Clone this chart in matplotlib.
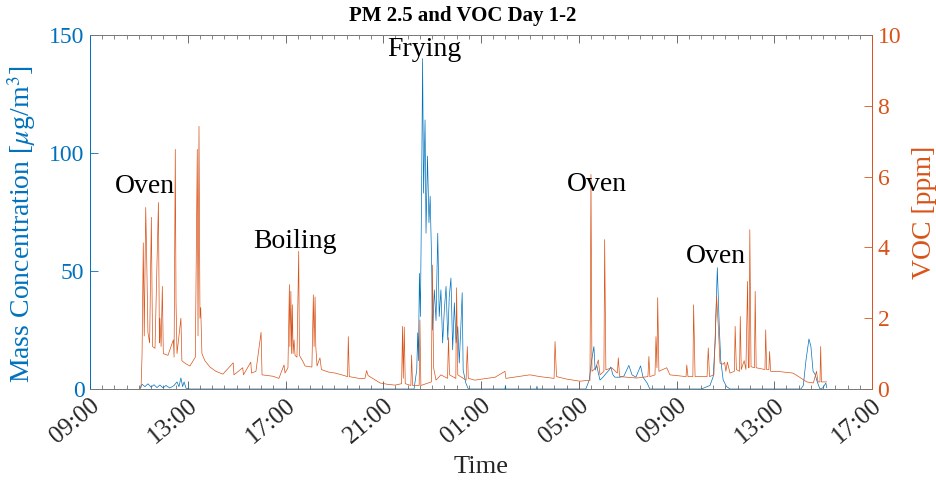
import numpy as np
import pandas as pd
import matplotlib
matplotlib.use("Agg")
import matplotlib.pyplot as plt
import matplotlib.dates as mdates

# Hours after 09:00 on day 1
voc_hours = [2.05, 2.09, 2.13, 2.18, 2.22, 2.28, 2.32, 2.37, 2.44, 2.51, 2.56, 2.66, 2.80, 2.84,
             2.86, 2.91, 2.96, 3.00, 3.19, 3.41, 3.44, 3.49, 3.52, 3.56, 3.72, 3.76, 3.90, 4.09, 4.31,
             4.39, 4.42, 4.46, 4.50, 4.53, 4.58, 4.70, 4.91, 5.15, 5.44, 5.86, 5.89, 6.25, 6.28, 6.58,
             6.61, 6.79, 7.00, 7.04, 7.49, 7.73, 7.94, 7.98, 8.10, 8.16, 8.18, 8.22, 8.25, 8.28, 8.31,
             8.35, 8.39, 8.47, 8.54, 8.57, 8.72, 8.80, 9.08, 9.14, 9.17, 9.21, 9.24, 9.29, 9.41,
             9.47, 9.75, 10.03, 10.30, 10.54, 10.57, 10.61, 11.00, 11.25, 11.32, 11.38, 11.87,
             12.20, 12.48, 12.75, 12.79, 12.82, 12.86, 12.90, 13.13, 13.16, 13.20, 13.47, 13.50,
             13.54, 13.97, 14.01, 14.06, 14.16, 14.36, 14.63, 14.67, 14.71, 14.97, 15.00, 15.05,
             15.39, 15.44, 15.48, 15.75, 16.23, 16.57, 16.98, 17.02, 18.00, 18.41, 18.99, 19.03,
             19.09, 19.50, 20.05, 20.46, 20.50, 20.54, 20.70, 20.80, 20.87, 21.03, 21.06, 21.11,
             21.35, 21.58, 21.62, 21.67, 22.00, 22.37, 22.83, 22.87, 22.91, 23.12, 23.16, 23.20,
             23.23, 23.28, 23.60, 23.73, 24.39, 24.42, 24.47, 24.67, 24.70, 24.76, 25.25, 25.30,
             25.35, 25.53, 25.64, 25.71, 25.78, 25.91, 25.97, 26.02, 26.08, 26.19, 26.37, 26.40,
             26.45, 26.58, 26.61, 26.65, 26.77, 26.84, 26.91, 26.94, 26.97, 27.00, 27.05, 27.19,
             27.22, 27.26, 27.62, 27.65, 27.69, 27.78, 27.81, 27.85, 28.23, 28.76, 28.93, 29.33,
             29.60, 29.73, 29.79, 29.87, 29.90, 29.93, 30.14]
voc_ppm = [0.00, 0.05, 0.96, 4.13, 1.50, 5.13, 3.70, 1.60, 1.30, 4.85, 1.20, 1.15, 5.27, 1.30,
           2.00, 1.20, 2.90, 1.00, 0.95, 1.39, 0.90, 6.77, 2.46, 1.00, 2.00, 0.80, 0.72, 0.65, 0.90,
           6.77, 1.50, 7.42, 2.00, 2.30, 1.00, 0.80, 0.62, 0.50, 0.42, 0.74, 0.40, 0.60, 0.40, 0.76,
           0.45, 0.50, 1.60, 0.40, 0.36, 0.30, 0.68, 0.45, 0.60, 2.95, 1.20, 2.76, 1.00, 2.38, 1.00,
           1.39, 0.95, 0.90, 3.89, 0.95, 0.77, 0.65, 0.62, 2.66, 1.20, 2.60, 1.20, 0.65, 0.88,
           0.55, 0.48, 0.45, 0.40, 0.35, 1.48, 0.35, 0.30, 0.30, 0.52, 0.38, 0.17,
           0.13, 0.11, 0.15, 1.77, 0.30, 1.75, 0.15, 0.10, 0.96, 0.10, 0.10, 1.95,
           0.10, 0.20, 3.50, 0.60, 0.25, 0.40, 0.30, 1.45, 0.40, 0.30, 2.86, 0.40,
           0.25, 1.20, 0.30, 0.25, 0.30, 0.33, 0.50, 0.30, 0.40, 0.35, 0.30, 1.34,
           0.35, 0.28, 0.22, 0.25, 6.06, 0.50, 0.60, 0.82, 0.40, 0.50, 4.22, 0.54,
           0.60, 0.45, 0.88, 0.35, 0.33, 0.31, 0.35, 0.92, 0.35, 0.40, 1.48, 0.60,
           2.58, 0.50, 0.60, 0.40, 0.35, 0.68, 0.35, 0.35, 2.38, 0.35, 0.35, 1.16,
           0.35, 0.40, 2.62, 1.77, 0.73, 0.70, 0.75, 0.50, 0.76, 0.45, 0.50, 1.77,
           0.55, 0.50, 2.05, 0.55, 0.80, 0.55, 3.04, 0.60, 0.60, 4.50, 0.63, 0.60,
           2.76, 0.60, 0.55, 1.67, 0.55, 0.55, 1.06, 0.50, 0.49, 0.45, 0.38, 0.20,
           0.17, 0.50, 0.20, 0.20, 1.20, 0.20, 0.20]

pm_hours = [2.05, 2.13, 2.25, 2.37, 2.50, 2.62, 2.74, 2.86, 2.99, 3.11, 3.27, 3.44, 3.56, 3.64,
            3.72, 3.79, 3.85, 3.93, 4.09, 13.26, 13.37, 13.41, 13.44, 13.48, 13.52, 13.57, 13.61,
            13.65, 13.71, 13.75, 13.81, 13.87, 13.92, 13.98, 14.02, 14.09, 14.16, 14.23, 14.29,
            14.36, 14.43, 14.50, 14.57, 14.64, 14.70, 14.77, 14.84, 14.91, 14.98, 15.05, 15.11,
            15.17, 15.23, 15.27, 15.38, 15.48, 16.98, 17.00, 17.02, 18.27, 18.29, 18.31, 20.29,
            20.43, 20.53, 20.62, 20.67, 20.74, 20.80, 20.87, 20.99, 21.11, 21.24, 21.31, 21.40,
            21.48, 21.69, 21.85, 22.05, 22.18, 22.34, 22.53, 22.63, 22.80, 22.91, 25.02, 25.37,
            25.50, 25.58, 25.67, 25.71, 25.75, 25.81, 25.91, 26.05, 26.19, 29.09, 29.19, 29.30,
            29.42, 29.50, 29.59, 29.66, 29.76, 29.87, 29.99, 30.11, 30.15]
pm_ugm3 = [0.5, 2.0, 1.0, 2.2, 0.8, 1.8, 0.6, 1.7, 0.5, 1.5, 0.4, 1.5, 3.0, 1.0,
           4.7, 1.0, 3.0, 0.3, 0.0, 0.0, 8.0, 23.8, 12.0, 49.0, 30.7, 84.5, 140.0,
           83.0, 114.0, 66.0, 98.7, 70.5, 81.7, 53.5, 25.0, 42.0, 29.0, 66.0, 30.7,
           42.0, 19.5, 33.6, 43.5, 20.8, 39.0, 47.0, 16.6, 36.5, 19.5, 26.5, 11.0,
           25.0, 40.8, 8.0, 2.5, 0.0, 0.0, 1.5, 0.0, 0.0, 1.2, 0.0, 0.0,
           3.8, 12.3, 18.0, 8.0, 10.0, 6.8, 3.8, 5.0, 6.5, 8.0, 9.3, 6.0,
           5.0, 5.0, 5.5, 10.0, 6.0, 5.0, 9.8, 5.0, 2.5, 0.0, 0.0, 1.5,
           5.2, 19.5, 51.4, 39.0, 26.5, 12.3, 3.8, 1.0, 0.0, 0.0, 1.5, 12.3,
           21.2, 18.0, 7.4, 6.5, 3.0, 0.0, 0.5, 2.5, 0.5]

labels = ["Oven", "Boiling", "Frying", "Oven", "Oven"]
label_hours = [2.25, 8.39, 13.67, 20.74, 25.61]
label_pm = [85.8, 62.5, 144.0, 86.7, 56.1]

blue = "#0072BD"
orange = "#D95319"
start = pd.Timestamp("2020-01-01 09:00")


def to_time(hours):
    return start + pd.to_timedelta(np.asarray(hours), unit="h")


plt.rcParams["font.family"] = ["Liberation Serif", "DejaVu Serif"]
plt.rcParams["mathtext.fontset"] = "stix"

fig = plt.figure(figsize=(9.36, 4.8), dpi=100)
ax = fig.add_axes([90 / 936, 91 / 480, 782 / 936, 354 / 480])
ax2 = ax.twinx()

ax.plot(to_time(pm_hours), pm_ugm3, color=blue, lw=0.5)
ax2.plot(to_time(voc_hours), voc_ppm, color=orange, lw=0.5)

ax.set_xlim(start, start + pd.Timedelta(hours=32))
ax.set_ylim(0, 150)
ax2.set_ylim(0, 10)
ax.set_yticks([0, 50, 100, 150])
ax2.set_yticks([0, 2, 4, 6, 8, 10])

ax.xaxis.set_major_locator(mdates.HourLocator(byhour=range(1, 24, 4)))
ax.xaxis.set_minor_locator(mdates.MinuteLocator(byminute=[0, 30]))
ax.xaxis.set_major_formatter(mdates.DateFormatter("%H:%M"))

ax.tick_params(axis="x", which="both", direction="in", top=True, colors="#555555",
               labelcolor="#262626", labelsize=18, pad=4)
ax.tick_params(axis="x", which="major", length=6, width=0.6)
ax.tick_params(axis="x", which="minor", length=3, width=0.5)
for lab in ax.get_xticklabels():
    lab.set_rotation(40)
    lab.set_ha("right")
    lab.set_rotation_mode("anchor")

ax.tick_params(axis="y", direction="in", length=6, width=0.6, colors=blue, labelsize=17, pad=4)
ax2.tick_params(axis="y", direction="in", length=6, width=0.6, colors=orange, labelsize=17, pad=4)

for a in (ax, ax2):
    a.spines["top"].set_color("#777777")
    a.spines["bottom"].set_color("#777777")
    a.spines["left"].set_color(blue)
    a.spines["right"].set_color(orange)
    for s in a.spines.values():
        s.set_linewidth(0.6)

ax.set_ylabel(r"Mass Concentration [$\mu$g/m$^3$]", color=blue, fontsize=20, labelpad=6)
ax.yaxis.set_label_coords(-0.066, 0.465)
ax2.set_ylabel("VOC [ppm]", color=orange, fontsize=20, labelpad=8)
ax.set_xlabel("Time", fontsize=19, color="#262626", labelpad=6)
ax.set_title("PM 2.5 and VOC Day 1-2", fontsize=15, fontweight="bold", pad=10, x=0.476)

for text, h, y in zip(labels, label_hours, label_pm):
    ax2.text(to_time([h])[0], y, text, transform=ax.transData, fontsize=20,
             ha="center", va="center", color="black")

fig.savefig("out.png", dpi=100)
